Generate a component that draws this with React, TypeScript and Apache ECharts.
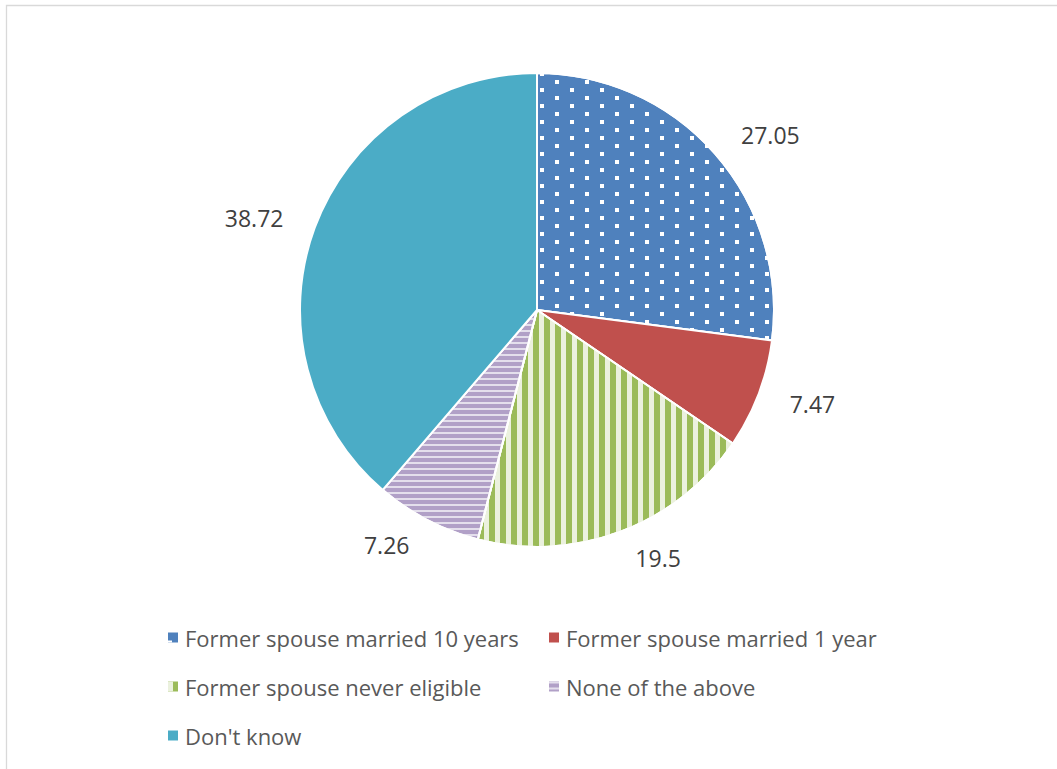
import React, { useEffect, useRef } from 'react';
import * as echarts from 'echarts';

const categories = [
  'Former spouse married 10 years',
  'Former spouse married 1 year',
  'Former spouse never eligible',
  'None of the above',
  "Don't know",
];
const values = [27.05, 7.47, 19.5, 7.26, 38.72];
const colors = ['#4F81BD', '#C0504D', '#9BBB59', '#B1A0C7', '#4BACC6'];

const decals: any[] = [
  {
    symbol: 'rect',
    symbolSize: 1,
    color: '#FFFFFF',
    dashArrayX: [[4, 26], [0, 15, 4, 11]],
    dashArrayY: [4, 4],
  },
  null,
  {
    symbol: 'rect',
    symbolSize: 1,
    color: '#EBF1DE',
    dashArrayX: [5, 6],
    dashArrayY: [1, 0],
  },
  {
    symbol: 'rect',
    symbolSize: 1,
    color: '#E4DFEC',
    dashArrayX: [1, 0],
    dashArrayY: [2, 4],
  },
  null,
];

const FONT = 'Open Sans';

export default function App() {
  const ref = useRef<HTMLDivElement>(null);
  useEffect(() => {
    document.body.style.margin = '0';
    const chart = echarts.init(ref.current!, null, { renderer: 'svg' });
    chart.setOption({
      animation: false,
      backgroundColor: '#FFFFFF',
      graphic: [
        {
          type: 'rect',
          shape: { x: 6.5, y: 5.5, width: 1100, height: 800 },
          style: { fill: 'none', stroke: '#D9D9D9', lineWidth: 1.3 },
          silent: true,
        },
      ],
      legend: {
        left: 168,
        top: 613,
        width: 780,
        padding: 0,
        itemGap: 0,
        itemWidth: 10,
        itemHeight: 10,
        icon: 'rect',
        itemStyle: { borderWidth: 0 },
        data: categories,
        textStyle: {
          fontFamily: FONT,
          fontSize: 22,
          color: '#595959',
          width: 364,
          lineHeight: 49,
          padding: [0, 0, 0, 2],
        },
      },
      series: [
        {
          type: 'pie',
          center: [537, 310],
          radius: 237,
          startAngle: 90,
          clockwise: true,
          avoidLabelOverlap: false,
          itemStyle: { borderColor: '#FFFFFF', borderWidth: 2 },
          label: {
            show: true,
            position: 'outside',
            formatter: '{c}',
            fontFamily: FONT,
            fontSize: 23,
            color: '#404040',
          },
          labelLine: { show: false, length: 28, length2: 0 },
          emphasis: { disabled: true },
          data: categories.map((name, i) => ({
            name,
            value: values[i],
            itemStyle: decals[i]
              ? { color: colors[i], decal: decals[i] }
              : { color: colors[i] },
          })),
        },
      ],
    });
    return () => chart.dispose();
  }, []);
  return <div ref={ref} style={{ width: 1057, height: 769 }} />;
}
